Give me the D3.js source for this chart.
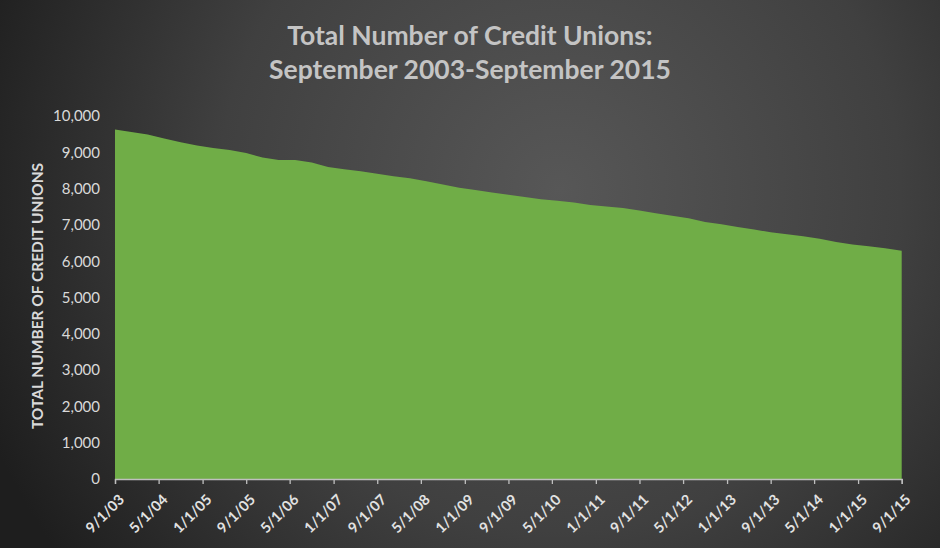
<!DOCTYPE html>
<html>
<head>
<meta charset="utf-8">
<script src="https://cdn.jsdelivr.net/npm/d3@7"></script>
<style>
  html, body { margin: 0; padding: 0; background: #2b2b2b; }
  svg { display: block; }
</style>
</head>
<body>
<svg id="chart" width="940" height="548"></svg>
<script>
const quarters = [
    "2003-09", "2003-12", "2004-03", "2004-06", "2004-09", "2004-12", "2005-03", "2005-06",
    "2005-09", "2005-12", "2006-03", "2006-06", "2006-09", "2006-12", "2007-03", "2007-06",
    "2007-09", "2007-12", "2008-03", "2008-06", "2008-09", "2008-12", "2009-03", "2009-06",
    "2009-09", "2009-12", "2010-03", "2010-06", "2010-09", "2010-12", "2011-03", "2011-06",
    "2011-09", "2011-12", "2012-03", "2012-06", "2012-09", "2012-12", "2013-03", "2013-06",
    "2013-09", "2013-12", "2014-03", "2014-06", "2014-09", "2014-12", "2015-03", "2015-06",
    "2015-09"
];
const creditUnions = [
    9630, 9560, 9490, 9380, 9280, 9190, 9120, 9060,
    8980, 8855, 8785, 8785, 8720, 8595, 8535, 8480,
    8410, 8340, 8285, 8200, 8110, 8020, 7960, 7895,
    7830, 7770, 7710, 7665, 7620, 7550, 7505, 7465,
    7400, 7320, 7250, 7180, 7080, 7020, 6940, 6870,
    6800, 6740, 6690, 6620, 6530, 6460, 6410, 6360,
    6290
];
const xTickLabels = [
    "9/1/03", "5/1/04", "1/1/05", "9/1/05", "5/1/06", "1/1/07", "9/1/07", "5/1/08",
    "1/1/09", "9/1/09", "5/1/10", "1/1/11", "9/1/11", "5/1/12", "1/1/13", "9/1/13",
    "5/1/14", "1/1/15", "9/1/15"
];
const yTicks = [0, 1000, 2000, 3000, 4000, 5000, 6000, 7000, 8000, 9000, 10000];
const titleLines = ["Total Number of Credit Unions:", "September 2003-September 2015"];
const yTitle = "TOTAL NUMBER OF CREDIT UNIONS";

const svg = d3.select("#chart");
const width = 940, height = 548;
const plot = { left: 115, right: 901.7, top: 116, bottom: 479 };
const font = "Lato, 'Open Sans', sans-serif";

// background
const defs = svg.append("defs");
const grad = defs.append("radialGradient")
    .attr("id", "bg")
    .attr("gradientUnits", "userSpaceOnUse")
    .attr("cx", 560).attr("cy", 190).attr("r", 620);
grad.append("stop").attr("offset", "0%").attr("stop-color", "#575757");
grad.append("stop").attr("offset", "55%").attr("stop-color", "#404040");
grad.append("stop").attr("offset", "100%").attr("stop-color", "#1e1e1e");
svg.append("rect").attr("width", width).attr("height", height).attr("fill", "url(#bg)");

const parseQ = d3.timeParse("%Y-%m");
const parseTick = d3.timeParse("%-m/%-d/%y");
const data = quarters.map((q, i) => ({ date: parseQ(q), value: creditUnions[i] }));

const scX = d3.scaleTime()
    .domain([parseTick(xTickLabels[0]), parseTick(xTickLabels[xTickLabels.length - 1])])
    .range([plot.left, plot.right]);
const scY = d3.scaleLinear()
    .domain([0, 10000])
    .range([plot.bottom, plot.top]);

// area
const area = d3.area()
    .x(d => scX(d.date))
    .y0(scY(0))
    .y1(d => scY(d.value));
svg.append("path")
    .datum(data)
    .attr("fill", "#70ad47")
    .attr("d", area);

// x axis
const axisX = d3.axisBottom(scX)
    .tickValues(xTickLabels.map(parseTick))
    .tickFormat((d, i) => xTickLabels[i])
    .tickSizeOuter(0)
    .tickSize(5);
const gx = svg.append("g")
    .attr("transform", `translate(0, ${plot.bottom})`)
    .call(axisX);
gx.select(".domain").attr("stroke", "#bfbfbf").attr("stroke-width", 1.3);
gx.selectAll(".tick line").attr("stroke", "#bfbfbf").attr("stroke-width", 1.3);
gx.selectAll("text")
    .attr("fill", "#e2e2e2")
    .attr("x", 0)
    .attr("y", 0)
    .attr("dy", "0.35em")
    .style("font-family", font)
    .style("font-size", "14.5px")
    .style("font-weight", "bold")
    .style("text-anchor", "end")
    .attr("transform", "translate(6, 18) rotate(-45)");

// y axis
const axisY = d3.axisLeft(scY)
    .tickValues(yTicks)
    .tickFormat(d3.format(","))
    .tickSize(0)
    .tickPadding(15);
const gy = svg.append("g")
    .attr("transform", `translate(${plot.left}, 0)`)
    .call(axisY);
gy.select(".domain").remove();
gy.selectAll("text")
    .attr("fill", "#d9d9d9")
    .style("font-family", font)
    .style("font-size", "15px");

// y title
svg.append("text")
    .attr("transform", `translate(43, 296) rotate(-90)`)
    .attr("text-anchor", "middle")
    .attr("fill", "#d9d9d9")
    .style("font-family", font)
    .style("font-size", "15.5px")
    .style("font-weight", "bold")
    .text(yTitle);

// title
svg.selectAll(".title")
    .data(titleLines)
    .enter()
    .append("text")
    .attr("class", "title")
    .attr("x", 470)
    .attr("y", (d, i) => 45 + i * 34)
    .attr("text-anchor", "middle")
    .attr("fill", "#c4c4c4")
    .style("font-family", font)
    .style("font-size", "26.5px")
    .style("font-weight", "bold")
    .text(d => d);
</script>
</body>
</html>
